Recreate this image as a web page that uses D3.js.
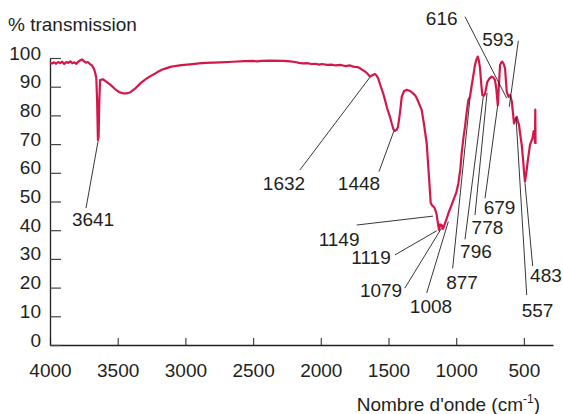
<!DOCTYPE html>
<html>
<head>
<meta charset="utf-8">
<script src="https://cdn.jsdelivr.net/npm/d3@7"></script>
<style>
  body { margin: 0; background: #fff; }
  text { font-family: "Liberation Sans", Arial, sans-serif; fill: #231f20; }
</style>
</head>
<body>
<div id="chart"></div>
<script>
// spectrum
var wavenumber = [4000, 3985, 3970, 3955, 3940, 3925, 3910, 3895, 3880, 3865, 3850, 3835, 3820, 3805, 3790, 3775, 3764, 3750, 3735, 3720, 3705, 3690, 3675, 3665, 3658, 3652, 3646, 3641, 3636, 3630,
  3609, 3585, 3557, 3520, 3490, 3461, 3430, 3409, 3372, 3340, 3320, 3290, 3261, 3230, 3202, 3170, 3143, 3110, 3077, 3030, 2966, 2900, 2850, 2744, 2650, 2560, 2501, 2470, 2440, 2380,
  2279, 2227, 2190, 2160, 2131, 2100, 2070, 2043, 2010, 1990, 1954, 1920, 1890, 1858, 1820, 1784, 1760, 1747, 1725, 1710, 1690, 1673, 1655, 1637, 1620, 1600, 1590, 1577, 1560, 1540,
  1526, 1510, 1489, 1475, 1464, 1452, 1440, 1430, 1415, 1402, 1385, 1365, 1340, 1319, 1300, 1282, 1255, 1238, 1218, 1201, 1188, 1175, 1160, 1150, 1144, 1135, 1127, 1118, 1107, 1097,
  1083, 1070, 1058, 1040, 1021, 1000, 984, 970, 959, 947, 935, 922, 910, 898, 885, 873, 861, 850, 841, 832, 824, 815, 807, 797, 787, 770, 755, 738, 725, 713,
  703, 693, 685, 676, 665, 659, 650, 639, 627, 614, 602, 589, 573, 563, 553, 545, 536, 526, 516, 505, 499, 492, 482, 472, 455, 437, 428, 421, 418, 416, 414];
var transmission = [98.4, 98.1, 98.5, 98.0, 98.6, 98.2, 98.7, 97.9, 98.6, 98.3, 98.8, 98.2, 98.5, 98.0, 98.8, 99.2, 99.5, 98.9, 98.4, 98.6, 97.9, 97.4, 96.2, 94.6, 93.0, 85.0, 71.4, 72.5, 85.0, 92.3,
  92.6, 91.8, 90.8, 89.2, 88.1, 87.7, 87.7, 88.0, 89.3, 90.8, 91.7, 92.7, 93.6, 94.4, 95.2, 96.0, 96.4, 96.9, 97.2, 97.5, 97.8, 98.1, 98.3, 98.5, 98.7, 98.9, 99.0, 98.8, 99.0, 99.1,
  99.0, 98.8, 98.6, 98.3, 98.1, 98.2, 97.9, 98.0, 97.7, 97.9, 97.6, 97.7, 97.4, 97.6, 97.2, 97.4, 97.0, 96.9, 96.8, 96.4, 95.8, 95.3, 94.5, 93.5, 94.0, 94.4, 94.0, 93.0, 90.5, 87.8,
  85.4, 82.5, 79.5, 77.0, 75.2, 74.6, 75.0, 76.0, 81.0, 86.5, 88.5, 88.9, 88.5, 87.7, 86.8, 85.0, 81.9, 77.0, 70.3, 58.6, 49.4, 48.5, 47.8, 46.5, 45.3, 42.5, 40.1, 42.0, 41.8, 40.5,
  42.4, 44.0, 45.9, 48.0, 50.5, 53.0, 56.3, 61.0, 67.0, 72.0, 76.0, 81.3, 85.4, 86.5, 90.6, 94.0, 97.6, 99.5, 100.5, 99.0, 96.4, 91.0, 87.1, 86.8, 87.5, 91.7, 92.8, 93.5, 93.2, 92.3,
  89.0, 83.6, 90.0, 97.6, 98.6, 98.7, 98.0, 96.4, 88.3, 86.5, 87.1, 84.8, 77.2, 78.5, 79.5, 78.0, 76.7, 73.0, 69.7, 64.0, 60.4, 56.9, 60.0, 63.9, 69.7, 72.0, 74.5, 72.5, 70.5, 82.0, 70.0];

var xTicks = [4000, 3500, 3000, 2500, 2000, 1500, 1000, 500];
var yTicks = [0, 10, 20, 30, 40, 50, 60, 70, 80, 90, 100];

// peak annotations: label, peak (wavenumber, %T), label spot and line start in data units
var peakLabels = ["3641", "1632", "1448", "1149", "1119", "1079", "1008", "877", "796", "778", "679", "616", "593", "557", "483"];
var peakW = [3645, 1637, 1459, 1171, 1144, 1107, 1058, 898, 800, 772, 693, 627, 608, 558, 492];
var peakT = [71, 93.3, 74.7, 44.9, 39.8, 40.8, 43.0, 86.1, 86.5, 87.8, 83.6, 86.0, 83.0, 79.4, 56.4];
var labelW = [3682, 2272, 1718, 1865, 1629, 1555, 1186, 957, 854, 769, 680, 1107, 691, 399, 337];
var labelT = [41.5, 54.0, 54.0, 34.5, 28.2, 16.7, 11.1, 19.5, 30.3, 38.7, 45.6, 111.5, 104.2, 9.8, 22.0];
var startW = [3734, 2154, 1570, 1735, 1452, 1378, 1218, 1026, 935, 861, 787, 935, 541, 479, 435];
var startT = [47.7, 61.0, 60.4, 41.8, 31.4, 19.9, 18.1, 26.7, 36.8, 45.3, 51.1, 114.4, 106.0, 17.4, 27.5];

var svgWidth = 563;
var svgHeight = 414;

var margin = {
  top: 58,
  right: 10,
  bottom: 69,
  left: 50
};

var width = svgWidth - margin.left - margin.right;
var height = svgHeight - margin.top - margin.bottom;

var fontSize = 19;

var svg = d3.select("#chart")
  .append("svg")
  .attr("width", svgWidth)
  .attr("height", svgHeight);

var chartGroup = svg.append("g")
  .attr("transform", `translate(${margin.left}, ${margin.top})`);

var xScale = d3.scaleLinear()
  .domain([4000, 285])
  .range([0, width]);

var yScale = d3.scaleLinear()
  .domain([0, 100])
  .range([height, 0]);

// axes, ticks pointing inward
var bottomAxis = d3.axisBottom(xScale)
  .tickValues(xTicks)
  .tickFormat(d3.format("d"))
  .tickSize(-7)
  .tickSizeOuter(0);

var leftAxis = d3.axisLeft(yScale)
  .tickValues(yTicks)
  .tickFormat(d3.format("d"))
  .tickSize(-11)
  .tickSizeOuter(0);

var xAxis = chartGroup.append("g")
  .attr("transform", `translate(0, ${height})`)
  .call(bottomAxis);

var yAxis = chartGroup.append("g")
  .call(leftAxis);

[xAxis, yAxis].forEach(function(ax) {
  ax.select(".domain").attr("stroke", "#231f20").attr("stroke-width", 1.3);
  ax.selectAll(".tick line").attr("stroke", "#444").attr("stroke-width", 1.2);
  ax.selectAll(".tick text")
    .attr("font-family", "Liberation Sans, Arial, sans-serif")
    .attr("font-size", fontSize)
    .attr("fill", "#231f20");
});

xAxis.selectAll(".tick text")
  .attr("y", 32)
  .attr("dy", 0);

yAxis.selectAll(".tick text")
  .attr("x", -9)
  .attr("y", 1)
  .attr("dy", 0);

// spectrum
var data = wavenumber.map((w, i) => ({ w: w, t: transmission[i] }));

var line = d3.line()
  .x(d => xScale(d.w))
  .y(d => yScale(d.t));

chartGroup.append("path")
  .datum(data)
  .attr("d", line)
  .attr("fill", "none")
  .attr("stroke", "#d4174b")
  .attr("stroke-width", 2.2)
  .attr("stroke-linejoin", "round");

// leader lines and peak labels
peakLabels.forEach(function(lab, i) {
  chartGroup.append("line")
    .attr("x1", xScale(startW[i]))
    .attr("y1", yScale(startT[i]))
    .attr("x2", xScale(peakW[i]))
    .attr("y2", yScale(peakT[i]))
    .attr("stroke", "#231f20")
    .attr("stroke-width", 0.9);

  chartGroup.append("text")
    .attr("x", xScale(labelW[i]))
    .attr("y", yScale(labelT[i]))
    .attr("text-anchor", "middle")
    .attr("font-size", fontSize)
    .text(lab);
});

// axis titles
svg.append("text")
  .attr("x", 8)
  .attr("y", 31)
  .attr("font-size", fontSize)
  .text("% transmission");

var xTitle = svg.append("text")
  .attr("x", 540)
  .attr("y", 411)
  .attr("text-anchor", "end")
  .attr("font-size", fontSize);

xTitle.append("tspan").text("Nombre d'onde (cm");
xTitle.append("tspan").attr("font-size", 12).attr("dy", -8).text("-1");
xTitle.append("tspan").attr("dy", 8).text(")");
</script>
</body>
</html>
